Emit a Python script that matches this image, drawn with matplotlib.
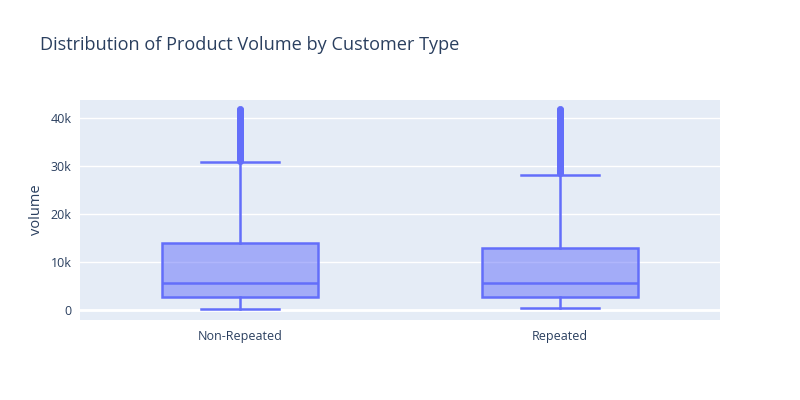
import matplotlib
matplotlib.use("Agg")
import matplotlib.pyplot as plt
from matplotlib.ticker import FuncFormatter

categories = ["Non-Repeated", "Repeated"]
whisker_low = [270, 480]
q1 = [2780, 2780]
median = [5570, 5700]
q3 = [13900, 13000]
whisker_high = [30800, 28200]
outliers_nonrep = [31000, 31250, 31500, 31750, 32000, 32250, 32500, 32750, 33000, 33250,
                   33500, 33750, 34000, 34250, 34500, 34750, 35000, 35250, 35500, 35750,
                   36000, 36250, 36500, 36750, 37000, 37250, 37500, 37750, 38000, 38250,
                   38500, 38750, 39000, 39250, 39500, 39750, 40000, 40250, 40500, 40750,
                   41000, 41250, 41500, 41750, 42000]
outliers_rep = [28500, 28750, 29000, 29250, 29500, 29750, 30000, 30250, 30500, 30750,
                31000, 31250, 31500, 31750, 32000, 32250, 32500, 32750, 33000, 33250,
                33500, 33750, 34000, 34250, 34500, 34750, 35000, 35250, 35500, 35750,
                36000, 36250, 36500, 36750, 37000, 37250, 37500, 37750, 38000, 38250,
                38500, 38750, 39000, 39250, 39500, 39750, 40000, 40250, 40500, 40750,
                41000, 41250, 41500, 41750, 42000]
outliers = [outliers_nonrep, outliers_rep]
yticks = [0, 10000, 20000, 30000, 40000]

plt.rcParams['font.family'] = ['Open Sans', 'DejaVu Sans']
color = "#636efa"
text_c = "#2a3f5f"

fig = plt.figure(figsize=(8, 4), dpi=100)
ax = fig.add_axes([0.1, 0.2, 0.8, 0.55])
ax.set_facecolor("#e5ecf6")

stats = []
for i, c in enumerate(categories):
    stats.append(dict(label=c, whislo=whisker_low[i], q1=q1[i], med=median[i],
                      q3=q3[i], whishi=whisker_high[i], fliers=outliers[i]))

ax.bxp(stats, positions=range(len(categories)), widths=0.49, patch_artist=True,
       showfliers=True,
       boxprops=dict(facecolor=(0x63/255, 0x6e/255, 0xfa/255, 0.5), edgecolor=color, linewidth=1.8),
       medianprops=dict(color=color, linewidth=1.8),
       whiskerprops=dict(color=color, linewidth=1.8),
       capprops=dict(color=color, linewidth=1.8),
       capwidths=0.245,
       flierprops=dict(marker='o', markersize=4.5, markerfacecolor=color,
                       markeredgecolor=color, markeredgewidth=0.5, linestyle='none'),
       zorder=3)

ax.set_xlim(-0.5, 1.5)
ax.set_ylim(-2090, 43800)
ax.set_yticks(yticks)
ax.yaxis.set_major_formatter(FuncFormatter(lambda v, p: "0" if v == 0 else f"{int(v/1000)}k"))
ax.grid(axis='y', color='white', linewidth=1, zorder=0)
ax.set_axisbelow(True)
ax.axhline(0, color='white', linewidth=2, zorder=1)
for s in ax.spines.values():
    s.set_visible(False)
ax.tick_params(axis='both', length=0, colors=text_c, labelsize=9)
ax.tick_params(axis='y', pad=6)
ax.tick_params(axis='x', pad=7)
ax.set_xticks(range(len(categories)))
ax.set_xticklabels(categories)
ax.set_ylabel("volume", color=text_c, fontsize=10.5, labelpad=5)

fig.text(0.05, 0.888, "Distribution of Product Volume by Customer Type",
         color=text_c, fontsize=13.1, va='center', ha='left')

fig.savefig("out.png", dpi=100, facecolor="white")
